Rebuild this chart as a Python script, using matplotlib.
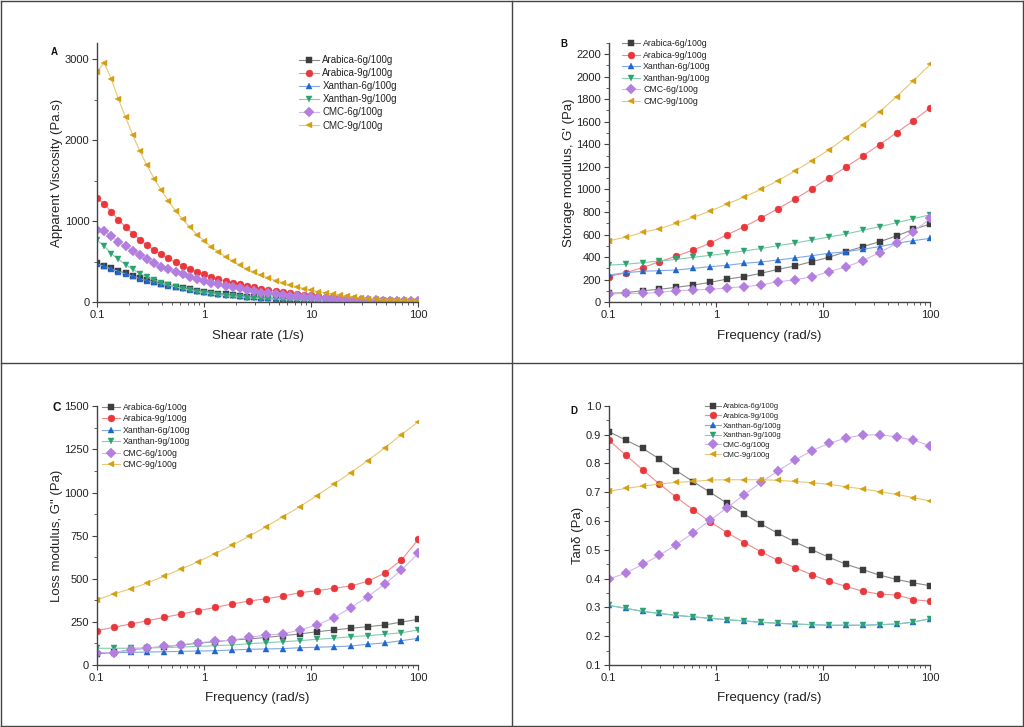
import matplotlib
matplotlib.use('Agg')
import matplotlib.pyplot as plt
from matplotlib.lines import Line2D
from matplotlib.ticker import FixedLocator, MultipleLocator, LogLocator, FuncFormatter, NullFormatter

plt.rcParams['font.family'] = ['Liberation Sans', 'DejaVu Sans']

labels = ['Arabica-6g/100g', 'Arabica-9g/100g', 'Xanthan-6g/100g',
          'Xanthan-9g/100g', 'CMC-6g/100g', 'CMC-9g/100g']
colors = ['#3d3d3d', '#e8383c', '#1f66d0', '#2ba36f', '#b27fe0', '#d4a012']
line_colors = ['#8a8a8a', '#f08c8e', '#7fa8e6', '#84cdb0', '#d3b6f0', '#e6c774']
markers = ['s', 'o', '^', 'v', 'D', '<']

# panel A: shear rate sweep
shear_rate = [0.1, 0.1166, 0.1359, 0.1585, 0.1848, 0.2154, 0.2512, 0.2929, 0.3415, 0.3981,
              0.4642, 0.5412, 0.6310, 0.7356, 0.8577, 1.0, 1.166, 1.359, 1.585, 1.848,
              2.154, 2.512, 2.929, 3.415, 3.981, 4.642, 5.412, 6.310, 7.356, 8.577,
              10.0, 11.66, 13.59, 15.85, 18.48, 21.54, 25.12, 29.29, 34.15, 39.81,
              46.42, 54.12, 63.10, 73.56, 85.77, 100.0]
visc_arabica6 = [480, 450, 418, 389, 357, 325, 297, 272, 250, 229, 210, 192, 176, 160, 145, 131,
                 118, 107, 97, 88, 79, 71, 64, 58, 52, 47, 42, 38, 34, 31, 28, 25, 22, 20, 18,
                 16, 14, 13, 12, 11, 10, 9, 8, 7, 6, 6]
visc_arabica9 = [1287, 1217, 1114, 1020, 930, 848, 775, 705, 643, 590, 541, 492, 450, 413, 376,
                 344, 315, 286, 262, 241, 221, 200, 184, 168, 153, 139, 126, 114, 103, 93, 84,
                 75, 67, 60, 54, 48, 43, 38, 34, 30, 27, 24, 21, 19, 17, 15]
visc_xanthan6 = [470, 445, 410, 380, 350, 320, 292, 267, 245, 225, 206, 188, 172, 157, 142, 128,
                 116, 105, 95, 86, 77, 70, 63, 57, 51, 46, 41, 37, 33, 30, 27, 24, 22, 20, 18,
                 16, 14, 13, 11, 10, 9, 8, 7, 7, 6, 5]
visc_xanthan9 = [766, 695, 600, 530, 465, 405, 355, 312, 275, 243, 215, 190, 168, 148, 131, 116,
                 103, 91, 81, 72, 64, 57, 51, 45, 40, 36, 32, 28, 25, 22, 20, 18, 16, 14, 12,
                 11, 10, 9, 8, 7, 6, 6, 5, 5, 4, 4]
visc_cmc6 = [898, 877, 815, 745, 692, 631, 578, 529, 479, 438, 406, 373, 344, 315, 286, 262,
             241, 225, 204, 184, 172, 151, 135, 118, 110, 102, 90, 82, 74, 67, 60, 54, 49, 44,
             40, 36, 32, 29, 26, 23, 21, 19, 17, 15, 14, 13]
visc_cmc9 = [2844, 2959, 2754, 2508, 2283, 2066, 1865, 1689, 1525, 1381, 1250, 1127, 1025, 926,
             836, 762, 684, 623, 561, 508, 459, 406, 370, 335, 300, 268, 240, 213, 190, 170,
             150, 131, 115, 99, 85, 72, 61, 53, 45, 39, 34, 30, 26, 23, 20, 18]

# panels B-D: frequency sweep
freq = [0.1, 0.1438, 0.2069, 0.2976, 0.4281, 0.6158, 0.8859, 1.274, 1.833, 2.637,
        3.793, 5.456, 7.848, 11.29, 16.24, 23.36, 33.60, 48.33, 69.52, 100.0]

gp_arabica6 = [80, 85, 103, 115, 133, 153, 177, 206, 227, 257, 292, 322, 360, 399, 448, 493,
               537, 588, 647, 694]
gp_arabica9 = [227, 262, 307, 360, 410, 463, 525, 599, 670, 747, 830, 915, 1007, 1102, 1196,
               1297, 1397, 1503, 1610, 1725]
gp_xanthan6 = [242, 262, 275, 280, 286, 301, 316, 328, 346, 357, 375, 393, 413, 434, 448, 470,
               493, 523, 546, 567]
gp_xanthan9 = [330, 337, 351, 366, 381, 399, 416, 434, 455, 476, 502, 525, 552, 579, 605, 638,
               670, 705, 741, 776]
gp_cmc6 = [74, 78, 78, 89, 103, 109, 115, 127, 139, 153, 183, 198, 227, 271, 313, 369, 440,
           523, 626, 744]
gp_cmc9 = [546, 576, 620, 653, 700, 753, 809, 871, 933, 1001, 1078, 1164, 1255, 1350, 1459,
           1571, 1689, 1822, 1964, 2109]

gpp_arabica6 = [64, 73, 87, 99, 106, 116, 126, 135, 145, 151, 160, 170, 180, 193, 203, 213,
                222, 232, 249, 265]
gpp_arabica9 = [199, 218, 238, 257, 276, 296, 315, 334, 354, 371, 384, 400, 419, 431, 445, 458,
                485, 532, 609, 729]
gpp_xanthan6 = [70, 72, 73, 75, 77, 79, 81, 83, 87, 91, 93, 95, 100, 103, 106, 110, 120, 128,
                141, 155]
gpp_xanthan9 = [97, 97, 97, 99, 101, 104, 108, 112, 116, 124, 129, 135, 141, 149, 155, 164,
                170, 178, 187, 203]
gpp_cmc6 = [70, 72, 87, 99, 108, 118, 130, 137, 145, 160, 174, 180, 203, 232, 274, 332, 396,
            468, 551, 648]
gpp_cmc9 = [377, 412, 441, 476, 516, 557, 599, 646, 694, 746, 802, 860, 918, 982, 1048, 1115,
            1185, 1258, 1336, 1411]

tan_arabica6 = [0.910, 0.881, 0.852, 0.815, 0.774, 0.736, 0.699, 0.661, 0.624, 0.589, 0.557,
                0.527, 0.500, 0.474, 0.450, 0.431, 0.412, 0.397, 0.385, 0.375]
tan_arabica9 = [0.881, 0.829, 0.778, 0.728, 0.682, 0.638, 0.597, 0.559, 0.525, 0.493, 0.463,
                0.438, 0.413, 0.391, 0.373, 0.356, 0.346, 0.343, 0.327, 0.321]
tan_xanthan6 = [0.307, 0.297, 0.286, 0.279, 0.272, 0.267, 0.262, 0.257, 0.253, 0.248, 0.245,
                0.242, 0.240, 0.238, 0.238, 0.238, 0.240, 0.242, 0.249, 0.261]
tan_xanthan9 = [0.307, 0.297, 0.286, 0.279, 0.272, 0.267, 0.262, 0.257, 0.253, 0.248, 0.245,
                0.242, 0.240, 0.238, 0.238, 0.238, 0.240, 0.242, 0.249, 0.261]
tan_cmc6 = [0.398, 0.419, 0.449, 0.481, 0.518, 0.559, 0.603, 0.646, 0.691, 0.734, 0.774,
            0.811, 0.844, 0.869, 0.888, 0.898, 0.899, 0.892, 0.880, 0.861]
tan_cmc9 = [0.703, 0.713, 0.721, 0.728, 0.734, 0.737, 0.742, 0.743, 0.743, 0.743, 0.741,
            0.737, 0.733, 0.727, 0.719, 0.711, 0.702, 0.692, 0.681, 0.669]

W, H = 1024, 727
fig = plt.figure(figsize=(W / 100, H / 100), dpi=100)

spine_col = '#444444'
text_col = '#222222'


def px_rect(left, top, right, bottom):
    return [left / W, 1 - bottom / H, (right - left) / W, (bottom - top) / H]


def make_panel(rect, x, series, ylim, major, minor, ylabel, xlabel, letter, letter_xy,
               letter_size, leg_xy, leg_size, leg_spacing, yfmt=None, msize=5.0):
    ax = fig.add_axes(rect)
    for y, lab, c, lc, m in zip(series, labels, colors, line_colors, markers):
        ax.plot(x, y, color=lc, lw=0.8, marker=m, ms=msize, mfc=c, mec=c, mew=0.3, label=lab)
    ax.set_xscale('log')
    ax.set_xlim(0.1, 100)
    ax.set_ylim(*ylim)
    ax.xaxis.set_major_locator(FixedLocator([0.1, 1, 10, 100]))
    ax.xaxis.set_major_formatter(FuncFormatter(lambda v, p: '%g' % v))
    ax.xaxis.set_minor_locator(LogLocator(base=10, subs=range(2, 10)))
    ax.xaxis.set_minor_formatter(NullFormatter())
    ax.yaxis.set_major_locator(MultipleLocator(major))
    ax.yaxis.set_minor_locator(MultipleLocator(minor))
    if yfmt:
        ax.yaxis.set_major_formatter(FuncFormatter(yfmt))
    for s in ['top', 'right']:
        ax.spines[s].set_visible(False)
    for s in ['left', 'bottom']:
        ax.spines[s].set_color(spine_col)
        ax.spines[s].set_linewidth(1.0)
    ax.tick_params(which='major', direction='out', length=3.5, width=0.8, color=spine_col,
                   labelsize=8, labelcolor=text_col, pad=2)
    ax.tick_params(which='minor', direction='out', length=2, width=0.6, color=spine_col)
    ax.set_xlabel(xlabel, fontsize=9.5, color=text_col, labelpad=7)
    ax.set_ylabel(ylabel, fontsize=9.5, color=text_col, labelpad=1)
    fig.text(letter_xy[0] / W, 1 - letter_xy[1] / H, letter, fontsize=letter_size,
             fontweight='bold', ha='center', va='center', color='#111111')
    ax.legend(loc='upper left', bbox_to_anchor=(leg_xy[0] / W, 1 - leg_xy[1] / H),
              bbox_transform=fig.transFigure, frameon=False, fontsize=leg_size,
              borderpad=0, borderaxespad=0, handlelength=2.1, handletextpad=0.3,
              labelspacing=leg_spacing, labelcolor=text_col)
    return ax


make_panel(px_rect(97, 43, 418.4, 302.3), shear_rate,
           [visc_arabica6, visc_arabica9, visc_xanthan6, visc_xanthan9, visc_cmc6, visc_cmc9],
           (0, 3200), 1000, 500, 'Apparent Viscosity (Pa.s)', 'Shear rate (1/s)',
           'A', (54, 52), 7, (299, 55), 7, 0.32)

make_panel(px_rect(608.7, 42.7, 930.4, 302.3), freq,
           [gp_arabica6, gp_arabica9, gp_xanthan6, gp_xanthan9, gp_cmc6, gp_cmc9],
           (0, 2300), 200, 100, "Storage modulus, G' (Pa)", 'Frequency (rad/s)',
           'B', (564, 44), 7, (622, 39.5), 6.3, 0.28)

make_panel(px_rect(96.7, 406.3, 418.4, 665), freq,
           [gpp_arabica6, gpp_arabica9, gpp_xanthan6, gpp_xanthan9, gpp_cmc6, gpp_cmc9],
           (0, 1500), 250, 125, 'Loss modulus, G" (Pa)', 'Frequency (rad/s)',
           'C', (57, 408), 8.5, (101.7, 403), 6.3, 0.28)

make_panel(px_rect(608.7, 405.7, 930.4, 665), freq,
           [tan_arabica6, tan_arabica9, tan_xanthan6, tan_xanthan9, tan_cmc6, tan_cmc9],
           (0.1, 1.0), 0.1, 0.05, 'Tanδ (Pa)', 'Frequency (rad/s)',
           'D', (574, 411), 7, (704.7, 403), 5.5, 0.3, yfmt=lambda v, p: '%.1f' % v)

# quadrant frame lines
frame_kw = dict(color='#444444', lw=1.0, transform=fig.transFigure)
for xs, ys in [([0.001, 0.999], [0.002, 0.002]), ([0.001, 0.999], [0.998, 0.998]),
               ([0.001, 0.001], [0.002, 0.998]), ([0.999, 0.999], [0.002, 0.998]),
               ([0.5, 0.5], [0.002, 0.998]), ([0.001, 0.999], [1 - 363 / H, 1 - 363 / H])]:
    fig.add_artist(Line2D(xs, ys, **frame_kw))

fig.savefig('out.png', dpi=100)
